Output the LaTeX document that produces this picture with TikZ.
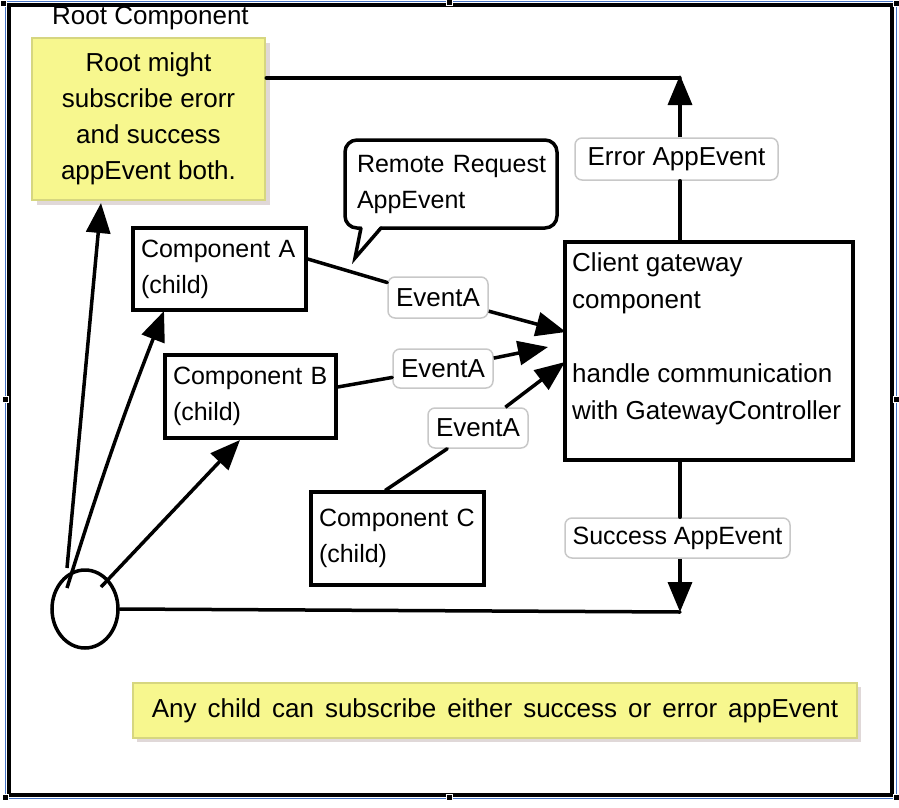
\documentclass[tikz,border=0pt]{standalone}
\usepackage{fontspec}
\setmainfont{Liberation Sans}
\usetikzlibrary{arrows.meta,calc,shapes.geometric}
\definecolor{notefill}{RGB}{247,247,142}
\definecolor{noteline}{RGB}{214,214,128}
\definecolor{noteshadow}{RGB}{224,216,216}
\definecolor{tagline}{RGB}{200,200,200}
\definecolor{selblue}{RGB}{68,114,196}
\begin{document}
\begin{tikzpicture}[x=1pt,y=-1pt,
  every node/.style={font=\fontsize{26}{36}\selectfont, inner sep=0pt},
  box/.style={draw=black, line width=3.5pt, fill=white, align=left, inner xsep=8pt,
              font=\fontsize{25}{36}\selectfont},
  note/.style={draw=noteline, line width=2.5pt, fill=notefill, align=center},
  tag/.style={draw=tagline, line width=1.5pt, fill=white, rounded corners=7pt},
  conn/.style={line width=3.5pt, line cap=round},
  arr/.style={line width=3.5pt, -{Triangle[length=30pt,width=24pt]}},
  handle/.style={fill=black, draw=white, line width=0.8pt},
]
\useasboundingbox (0,0) rectangle (899,808);
% frames
\draw[selblue, line width=1.5pt] (5.5,1.5) rectangle (896.5,798.5);
\draw[line width=4pt] (9,5) rectangle (892,795);
\foreach \hx/\hy in {3/3,449/2,896/3,5/399,896/399,5/797,449/797,896/797}
  \filldraw[handle] (\hx-3,\hy-3) rectangle (\hx+3,\hy+3);

% title
\node[anchor=west] (title) at (52,18) {Root Component};

% root note
\fill[noteshadow] (37,43) rectangle (270,205);
\node[note, minimum width=233pt, minimum height=162pt] (rootnote) at (148.5,119)
  {Root might\\subscribe erorr\\and success\\appEvent both.};

% speech bubble
\node[draw, line width=3.5pt, fill=white, rounded corners=12pt, align=left,
      font=\fontsize{25}{36}\selectfont,
      text width=188pt, inner xsep=12pt, minimum height=88pt] (bubble) at (451,184)
  {\mbox{Remote Request}\\\mbox{AppEvent}};
\fill[white] (361,225) -- (355,258) -- (381,225) -- cycle;
\draw[conn, line join=miter] (361,228) -- (355,258) -- (381,228);

% components
\node[box, text width=157pt, minimum height=82pt] (compA) at (219.5,269) {\mbox{Component A}\\\mbox{(child)}};
\node[box, text width=155pt, minimum height=83pt] (compB) at (250.5,396.5) {\mbox{Component B}\\\mbox{(child)}};
\node[box, text width=157pt, minimum height=93pt] (compC) at (397.5,538.5) {\mbox{Component C}\\\mbox{(child)}};

% gateway
\node[draw, line width=3.5pt, minimum width=288pt, minimum height=218pt] (gw) at (709,351) {};
\node[anchor=north west, align=left, font=\fontsize{26}{37}\selectfont] (gwtext) at (572,252)
  {Client gateway\\component\\[37pt]handle communication\\with GatewayController};

% root circle
\node[draw, line width=3.5pt, ellipse, minimum width=66pt, minimum height=78pt] (circ) at (85,609) {};

% tags
\node[tag, minimum width=100pt, minimum height=41pt] (tagEA) at (438,297.5) {EventA};
\node[tag, minimum width=100pt, minimum height=39pt] (tagEB) at (443,368.5) {EventA};
\node[tag, minimum width=100pt, minimum height=40pt] (tagEC) at (478,428) {EventA};
\node[tag, minimum width=203pt, minimum height=42pt] (tagErr) at (676.5,159) {Error AppEvent};
\node[tag, minimum width=225pt, minimum height=40pt, font=\fontsize{25}{36}\selectfont] (tagSucc) at (677.5,538) {Success AppEvent};

% coordinates
\coordinate (tipA) at (566,332);
\coordinate (tipB) at (548,347);
\coordinate (tipC) at (565,362);
\coordinate (gwtop) at (680,242);
\coordinate (gwbot) at (680,460);
\coordinate (errTip) at (680,75);
\coordinate (succTip) at (680,612);
\coordinate (c1) at (67,568);
\coordinate (c2) at (67,588);
\coordinate (c3) at (101,587);
\coordinate (noteTip) at (101,203);
\coordinate (tipCA) at (164,311);
\coordinate (tipCB) at (240,440);

% event connectors
\draw[conn] ($(compA.east)+(0,-10)$) -- (tagEA);
\draw[arr] (tagEA) -- (tipA);
\draw[conn] ($(compB.east)+(0,-9.5)$) -- (tagEB);
\draw[arr] (tagEB) -- (tipB);
\draw[conn] ($(compC.north)+(-12,0)$) -- (tagEC);
\draw[arr] (tagEC) -- (tipC);

% error / success
\draw[conn] (gwtop) -- (gwtop |- tagErr.south);
\draw[arr] (gwtop |- tagErr.north) -- (errTip);
\draw[conn] (rootnote.east |- 0,78) -- (680,78);
\draw[conn] (gwbot) -- (gwbot |- tagSucc.north);
\draw[arr] (gwbot |- tagSucc.south) -- (succTip);
\draw[conn] (circ.east) -- (succTip);

% from circle
\draw[arr] (c1) -- (noteTip);
\draw[arr] (c2) to[bend left=2] (tipCA);
\draw[arr] (c3) -- (tipCB);

% bottom note
\fill[noteshadow] (137,687) rectangle (861,742);
\node[note, minimum width=724pt, minimum height=55pt] (bottomnote) at (495,710.5)
  {\spaceskip=11pt plus 2pt Any child can subscribe either success or error appEvent};
\end{tikzpicture}
\end{document}
